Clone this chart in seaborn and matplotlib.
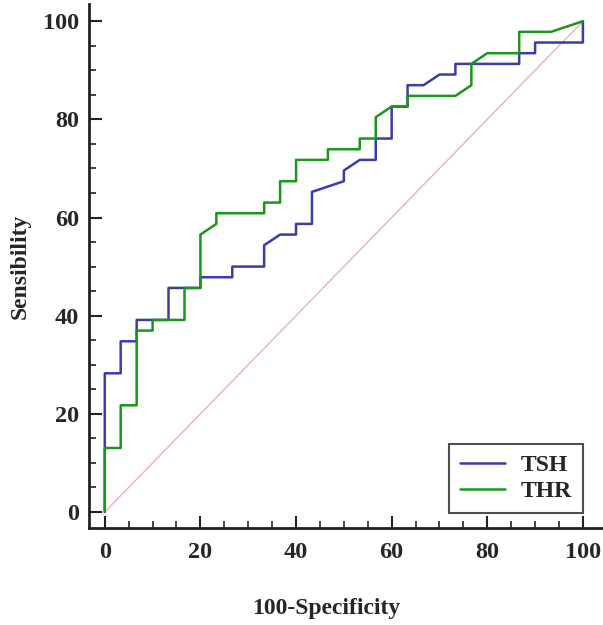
import matplotlib
matplotlib.use("Agg")
import matplotlib.pyplot as plt
from matplotlib.ticker import MultipleLocator
import seaborn as sns
import pandas as pd

# ROC curve points (100-Specificity, Sensitivity)
tsh_fpr = [0, 0, 3.33, 3.33, 6.67, 6.67, 13.33, 13.33, 20, 20, 26.67, 26.67, 33.33, 33.33,
           36.67, 40, 40, 43.33, 43.33, 50, 50, 53.33, 56.67, 56.67, 60, 60, 63.33, 63.33,
           66.67, 70, 73.33, 73.33, 86.67, 86.67, 90, 90, 100, 100]
tsh_tpr = [0, 28.26, 28.26, 34.78, 34.78, 39.13, 39.13, 45.65, 45.65, 47.83, 47.83, 50.0, 50.0, 54.35,
           56.52, 56.52, 58.70, 58.70, 65.22, 67.39, 69.57, 71.74, 71.74, 76.09, 76.09, 82.61, 82.61, 86.96,
           86.96, 89.13, 89.13, 91.30, 91.30, 93.48, 93.48, 95.65, 95.65, 100]

thr_fpr = [0, 0, 3.33, 3.33, 6.67, 6.67, 10, 10, 16.67, 16.67, 20, 20, 23.33, 23.33, 33.33, 33.33,
           36.67, 36.67, 40, 40, 46.67, 46.67, 53.33, 53.33, 56.67, 56.67, 60, 63.33, 63.33, 73.33,
           76.67, 76.67, 80, 86.67, 86.67, 93.33, 100]
thr_tpr = [0, 13.04, 13.04, 21.74, 21.74, 36.96, 36.96, 39.13, 39.13, 45.65, 45.65, 56.52, 58.70, 60.87, 60.87, 63.04,
           63.04, 67.39, 67.39, 71.74, 71.74, 73.91, 73.91, 76.09, 76.09, 80.43, 82.61, 82.61, 84.78, 84.78,
           86.96, 91.30, 93.48, 93.48, 97.83, 97.83, 100]

ref_x = [0, 100]
ref_y = [0, 100]

series_names = ["TSH", "THR"]
series_colors = ["#3b3bab", "#1a961a"]

sns.set_style("white")
plt.rcParams["font.family"] = ["Liberation Serif", "DejaVu Serif"]
plt.rcParams["font.weight"] = "bold"

fig = plt.figure(figsize=(6.03, 6.25), dpi=100)
ax = fig.add_axes([89 / 603, 97 / 625, 514 / 603, 524 / 625])

sns.lineplot(x=ref_x, y=ref_y, ax=ax, color="#e6b3b3", linewidth=1.0, sort=False, estimator=None)

df = pd.concat([
    pd.DataFrame({"x": tsh_fpr, "y": tsh_tpr, "curve": series_names[0], "order": range(len(tsh_fpr))}),
    pd.DataFrame({"x": thr_fpr, "y": thr_tpr, "curve": series_names[1], "order": range(len(thr_fpr))}),
])
sns.lineplot(data=df, x="x", y="y", hue="curve", units="curve", estimator=None, sort=False,
             palette=dict(zip(series_names, series_colors)), linewidth=1.8, ax=ax)

ax.set_xlim(-3.3, 104.2)
ax.set_ylim(-3.26, 103.5)
ax.xaxis.set_major_locator(MultipleLocator(20))
ax.yaxis.set_major_locator(MultipleLocator(20))
ax.xaxis.set_minor_locator(MultipleLocator(5))
ax.yaxis.set_minor_locator(MultipleLocator(5))

for side in ["top", "right"]:
    ax.spines[side].set_visible(False)
for side in ["left", "bottom"]:
    ax.spines[side].set_color("#222222")
    ax.spines[side].set_linewidth(2.0)

ax.tick_params(which="major", direction="in", length=9, width=1.5, color="#222222",
               labelsize=17.5, bottom=True, left=True)
ax.tick_params(which="minor", direction="in", length=5, width=1.2, color="#222222",
               bottom=True, left=True)
ax.tick_params(axis="x", which="major", pad=10)
ax.tick_params(axis="y", which="major", pad=7)
for lbl in ax.get_xticklabels() + ax.get_yticklabels():
    lbl.set_fontweight("bold")

ax.set_xlabel("100-Specificity", fontsize=17, fontweight="bold")
ax.xaxis.set_label_coords(0.462, -0.133)
ax.set_ylabel("Sensibility", fontsize=17, fontweight="bold", labelpad=9)

leg = ax.legend(loc="lower right", bbox_to_anchor=(0.961, 0.029), borderaxespad=0,
                fontsize=17, frameon=True, fancybox=False, handlelength=1.9,
                handletextpad=0.7, borderpad=0.45, labelspacing=0.2, title=None)
leg.get_frame().set_edgecolor("#222222")
leg.get_frame().set_linewidth(1.5)
for t in leg.get_texts():
    t.set_fontweight("bold")
for h in leg.get_lines():
    h.set_linewidth(1.8)

fig.savefig("out.png", dpi=100)
